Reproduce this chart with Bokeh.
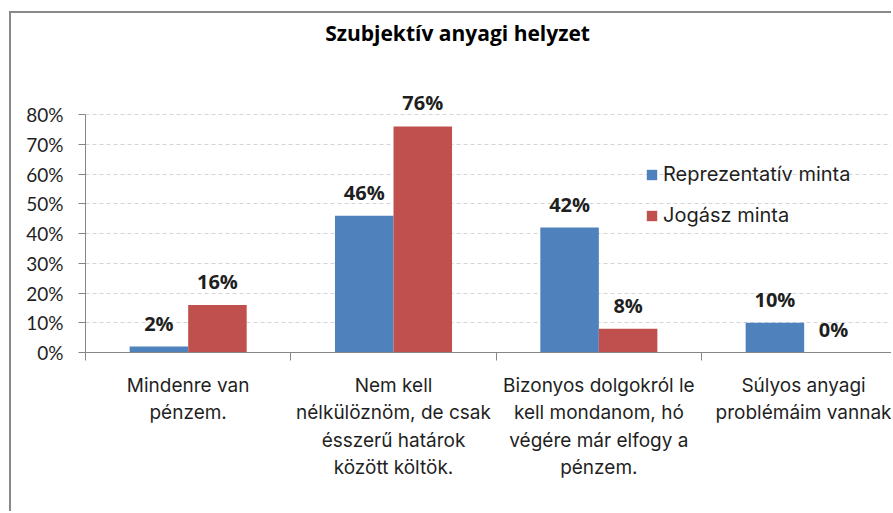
import numpy as np
from bokeh.plotting import figure
from bokeh.models import (ColumnDataSource, FixedTicker, LabelSet, Legend, LegendItem, Range1d)
from bokeh.core.properties import value
from bokeh.embed import file_html
from bokeh.resources import INLINE

title_text = "Szubjektív anyagi helyzet"
categories = [
    "Mindenre van\npénzem.",
    "Nem kell\nnélkülöznöm, de csak\nésszerű határok\nközött költök.",
    "Bizonyos dolgokról le\nkell mondanom, hó\nvégére már elfogy a\npénzem.",
    "Súlyos anyagi\nproblémáim vannak",
]
series_names = ["Reprezentatív minta", "Jogász minta"]
repr_values = [0.02, 0.46, 0.42, 0.10]
jogasz_values = [0.16, 0.76, 0.08, 0.00]
y_ticks = [0.0, 0.1, 0.2, 0.3, 0.4, 0.5, 0.6, 0.7, 0.8]
y_tick_labels = ["0%", "10%", "20%", "30%", "40%", "50%", "60%", "70%", "80%"]

BLUE = "#4F81BD"
RED = "#C0504D"
FONT = "Open Sans"
CATFONT = "Inter"
TICKFONT = "Lato"
TXT = "#1f1f1f"
AX = "#868686"

n = len(categories)
centers = np.arange(n) + 0.5
bar_w = 0.285

src_b = ColumnDataSource(dict(x=centers - bar_w / 2, y=repr_values,
                              lab=[f"{round(v*100)}%" for v in repr_values]))
src_r = ColumnDataSource(dict(x=centers + bar_w / 2, y=jogasz_values,
                              lab=[f"{round(v*100)}%" for v in jogasz_values]))

W, H = 882, 500
p = figure(width=W, height=H, output_backend="svg", toolbar_location=None,
           x_range=Range1d(0, 3.935), y_range=Range1d(0, 1.1328),
           min_border_left=74, min_border_right=0, min_border_top=2,
           min_border_bottom=161)
p.styles = {"border-left": "2px solid #898989", "border-top": "2px solid #898989",
            "margin-left": "9px", "margin-top": "11px"}
p.outline_line_color = None
p.background_fill_color = "white"
p.border_fill_color = "white"

rb = p.vbar(x="x", top="y", width=bar_w, source=src_b, fill_color=BLUE, line_color=None)
rr = p.vbar(x="x", top="y", width=bar_w, source=src_r, fill_color=RED, line_color=None)

for s in (src_b, src_r):
    ls = LabelSet(x="x", y="y", text="lab", source=s, text_align="center",
                  text_baseline="bottom", y_offset=10, text_font=value(FONT),
                  text_font_size="20px", text_font_style="bold", text_color=TXT)
    p.add_layout(ls)

# title
p.text(x=[1.812], y=[1.073], text=[title_text], text_align="center",
       text_baseline="middle", text_font=value(FONT), text_font_size="21px",
       text_font_style="bold", text_color="black")

# y axis
yax = p.yaxis[0]
yax.ticker = FixedTicker(ticks=y_ticks)
yax.bounds = (0, 0.8)
yax.major_label_overrides = {t: l for t, l in zip(y_ticks, y_tick_labels)}
yax.major_label_text_font = TICKFONT
yax.major_label_text_font_size = "19px"
yax.major_label_text_color = TXT
yax.major_label_standoff = 15
yax.major_tick_out = 7
yax.major_tick_in = 0
yax.minor_tick_out = 0
yax.minor_tick_in = 0
yax.axis_line_color = AX
yax.major_tick_line_color = AX

# x axis
xax = p.xaxis[0]
xax.ticker = FixedTicker(ticks=list(centers), minor_ticks=list(np.arange(n + 1)))
xax.major_label_overrides = {float(c): l for c, l in zip(centers, categories)}
xax.major_label_text_font = CATFONT
xax.major_label_text_font_size = "19px"
xax.major_label_text_color = TXT
xax.major_label_standoff = 13
xax.major_tick_out = 0
xax.major_tick_in = 0
xax.minor_tick_out = 8
xax.minor_tick_in = 0
xax.minor_tick_line_color = AX
xax.axis_line_color = AX

p.xgrid.visible = False
p.ygrid.ticker = FixedTicker(ticks=y_ticks)
p.ygrid.grid_line_color = "#d4d4d4"
p.ygrid.grid_line_dash = "4 3"

legend = Legend(items=[LegendItem(label=series_names[0], renderers=[rb]),
                       LegendItem(label=series_names[1], renderers=[rr])],
                location=(560, 125), orientation="vertical")
legend.padding = 0
legend.margin = 0
legend.border_line_color = None
legend.background_fill_alpha = 0
legend.glyph_width = 13
legend.glyph_height = 13
legend.label_standoff = 5
legend.label_height = 22
legend.spacing = 17
legend.label_text_font = CATFONT
legend.label_text_font_size = "20px"
legend.label_text_color = TXT
p.add_layout(legend, "center")

open("out.html", "w").write(file_html(p, INLINE))
